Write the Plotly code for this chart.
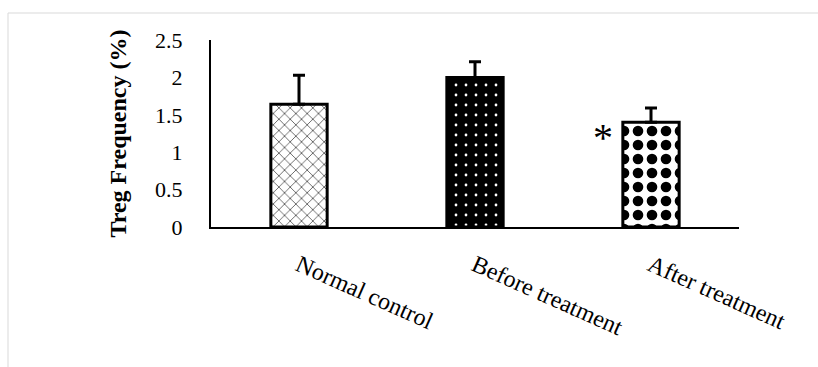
import plotly.graph_objects as go

categories = ["Normal control", "Before treatment", "After treatment"]
means = [1.64, 2.00, 1.40]
sd_upper = [0.39, 0.21, 0.19]
y_ticks = [0, 0.5, 1, 1.5, 2, 2.5]
y_tick_labels = ["0", "0.5", "1", "1.5", "2", "2.5"]
sig_marks = ["", "", "*"]

FONT = "Liberation Serif"

patterns = [
    dict(shape="x", fgcolor="#555555", bgcolor="white", size=8, solidity=0.2),
    dict(shape=".", fgcolor="white", bgcolor="black", size=10, solidity=0.06),
    dict(shape=".", fgcolor="black", bgcolor="white", size=14, solidity=0.45),
]

fig = go.Figure()
for c, m, s, p in zip(categories, means, sd_upper, patterns):
    fig.add_trace(go.Bar(
        x=[c],
        y=[m],
        width=0.32,
        marker=dict(
            color=p["bgcolor"],
            line=dict(color="black", width=3),
            pattern=dict(fillmode="replace", **p),
        ),
        error_y=dict(
            type="data", symmetric=False, array=[s], arrayminus=[0],
            color="black", thickness=3, width=6,
        ),
        showlegend=False,
    ))

for c, m, s in zip(categories, means, sig_marks):
    if s:
        fig.add_annotation(
            x=c, y=m - 0.21, xref="x", yref="y", text=s, showarrow=False,
            xshift=-48, font=dict(family=FONT, size=40, color="black"),
        )

L, R, T, B = 211, 79, 40, 140
W, H = 818, 367
pw, ph = W - L - R, H - T - B

fig.add_shape(
    type="rect", xref="paper", yref="paper",
    x0=(8 - L) / pw, x1=3, y0=-3, y1=(227 - 13) / ph,
    line=dict(color="#d9d9d9", width=1), fillcolor="rgba(0,0,0,0)", layer="below",
)

fig.update_layout(
    width=W, height=H,
    barmode="overlay",
    margin=dict(l=L, r=R, t=T, b=B, pad=0),
    paper_bgcolor="white", plot_bgcolor="white",
    font=dict(family=FONT, color="black", size=22),
    xaxis=dict(
        showline=True, linecolor="black", linewidth=2, showgrid=False,
        ticks="", tickangle=24, tickfont=dict(size=24),
        ticklabelstandoff=13,
        zeroline=False, categoryorder="array", categoryarray=categories,
    ),
    yaxis=dict(
        range=[0, 2.5], tickvals=y_ticks, ticktext=y_tick_labels,
        showline=True, linecolor="black", linewidth=2, showgrid=False,
        zeroline=False, ticks="", ticklabelstandoff=22,
        tickfont=dict(size=22),
        title=dict(text="<b>Treg Frequency (%)</b>", font=dict(size=24), standoff=22),
    ),
)

fig.write_html("out.html")
